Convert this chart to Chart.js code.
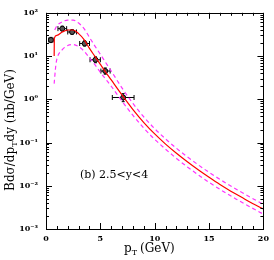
<!DOCTYPE html>
<html><head><meta charset="utf-8">
<script src="https://cdn.jsdelivr.net/npm/chart.js@4/dist/chart.umd.min.js"></script>
<style>html,body{margin:0;padding:0;background:#fff}</style>
</head><body>
<canvas id="c" width="274" height="260"></canvas>
<script>
// measured points (pT bin centre, yield) with bin edges
const ptX   = [0.45, 1.5, 2.4, 3.55, 4.55, 5.45, 7.1];
const ptY   = [23.5, 43, 36, 19.5, 8.2, 4.5, 1.1];
const ptXLo = [0.25, 1.1, 2.0, 3.1, 4.05, 5.05, 6.1];
const ptXHi = [0.65, 1.9, 2.8, 4.0, 5.0, 5.9, 8.1];
const ptYLo = [20.5, 38, 32, 17, 7.0, 3.8, 0.88];
const ptYHi = [27, 49, 40.5, 22.5, 9.6, 5.3, 1.35];

// central theory curve
const midX = [0.75, 0.77, 1.0, 1.5, 2.0, 2.5, 3.0, 3.5, 4.0, 4.5, 5.0, 5.5, 6.0, 7.0, 8.0, 9.0, 10, 11, 12, 13, 14, 15, 16, 17, 18, 19, 20];
const midY = [10, 26, 30, 36, 40, 40, 33, 24, 15, 9.8, 6.4, 4.2, 2.8, 1.25, 0.58, 0.29, 0.158, 0.092, 0.0565, 0.0359, 0.0234, 0.0157, 0.0107, 0.0075, 0.0054, 0.0039, 0.0029];
// upper / lower band
const upX = [0.8, 1.0, 1.5, 2.0, 2.5, 3.0, 3.5, 4.0, 4.5, 5.0, 5.5, 6.0, 7.0, 8.0, 9.0, 10, 11, 12, 13, 15, 17.5, 20];
const upY = [40, 50, 62, 68, 68, 58, 43, 27, 17, 11, 7, 4.5, 1.81, 0.80, 0.389, 0.209, 0.121, 0.0735, 0.0467, 0.0204, 0.0083, 0.0037];
const loX = [0.75, 0.9, 1.0, 1.5, 2.0, 2.5, 3.0, 3.5, 4.0, 4.5, 5.0, 5.5, 6.0, 7.0, 8.0, 9.0, 10, 11, 12, 13, 15, 17.5, 20];
const loY = [2.3, 6, 8.5, 14, 17.5, 18.5, 16.5, 13, 9, 6.3, 4.2, 2.9, 2.0, 0.9, 0.423, 0.215, 0.1185, 0.070, 0.0429, 0.0273, 0.012, 0.0049, 0.0022];

const xMajor = [0, 5, 10, 15, 20];
const yMajor = [1e-3, 1e-2, 1e-1, 1, 10, 100];
const yTickText = ['10\u207B\u00B3', '10\u207B\u00B2', '10\u207B\u00B9', '10\u2070', '10\u00B9', '10\u00B2'];

const SERIF = '"DejaVu Serif", "Liberation Serif", serif';

function pts(xs, ys){ return xs.map((x, i) => ({x, y: ys[i]})); }

const frame = {
  id: 'frame',
  beforeDatasetsDraw(chart){
    const {ctx, scales:{x, y}} = chart;
    ctx.save();
    ctx.strokeStyle = '#000';
    ctx.lineWidth = 1;
    ctx.beginPath();
    for(let i = 0; i < ptX.length; i++){
      const px = x.getPixelForValue(ptX[i]), py = y.getPixelForValue(ptY[i]);
      const x0 = x.getPixelForValue(ptXLo[i]), x1 = x.getPixelForValue(ptXHi[i]);
      const y0 = y.getPixelForValue(ptYLo[i]), y1 = y.getPixelForValue(ptYHi[i]);
      ctx.moveTo(x0, py); ctx.lineTo(x1, py);
      ctx.moveTo(x0, py - 2.5); ctx.lineTo(x0, py + 2.5);
      ctx.moveTo(x1, py - 2.5); ctx.lineTo(x1, py + 2.5);
      ctx.moveTo(px, y0); ctx.lineTo(px, y1);
      ctx.moveTo(px - 1.5, y0); ctx.lineTo(px + 1.5, y0);
      ctx.moveTo(px - 1.5, y1); ctx.lineTo(px + 1.5, y1);
    }
    ctx.stroke();
    ctx.restore();
  },
  afterDraw(chart){
    const {ctx, chartArea:a, scales:{x, y}} = chart;
    ctx.save();
    ctx.strokeStyle = '#000';
    ctx.lineWidth = 1;
    ctx.strokeRect(Math.round(a.left) + 0.5, Math.round(a.top) + 0.5, Math.round(a.right - a.left), Math.round(a.bottom - a.top));
    ctx.beginPath();
    for(let v = 0; v <= 20; v++){
      const px = Math.round(x.getPixelForValue(v)) + 0.5;
      const len = v % 5 === 0 ? 6 : 3;
      ctx.moveTo(px, a.bottom); ctx.lineTo(px, a.bottom - len);
      ctx.moveTo(px, a.top); ctx.lineTo(px, a.top + len);
    }
    for(let e = -3; e <= 2; e++){
      for(let m = 1; m <= 9; m++){
        const v = m * Math.pow(10, e);
        if(v > 100) break;
        const py = Math.round(y.getPixelForValue(v)) + 0.5;
        const len = m === 1 ? 6 : 3;
        ctx.moveTo(a.left, py); ctx.lineTo(a.left + len, py);
        ctx.moveTo(a.right, py); ctx.lineTo(a.right - len, py);
      }
    }
    ctx.stroke();

    ctx.fillStyle = '#000';
    // panel label
    ctx.font = '11px ' + SERIF;
    ctx.textAlign = 'left';
    ctx.textBaseline = 'middle';
    ctx.fillText('(b) 2.5<y<4', 80, 175);

    // x title: p_T (GeV)
    ctx.font = '12px ' + SERIF;
    ctx.textBaseline = 'alphabetic';
    let tx = 124, ty = 252;
    ctx.fillText('p', tx, ty);
    tx += ctx.measureText('p').width;
    ctx.font = '8px ' + SERIF;
    ctx.fillText('T', tx, ty + 3);
    tx += ctx.measureText('T').width + 3;
    ctx.font = '12px ' + SERIF;
    ctx.fillText('(GeV)', tx, ty);

    // y title: Bdσ/dp_Tdy (nb/GeV)
    ctx.translate(14, 130);
    ctx.rotate(-Math.PI / 2);
    const parts = [['Bd\u03C3/dp', 12, 0], ['T', 8, 3], ['dy (nb/GeV)', 12, 0]];
    let w = 0;
    parts.forEach(p => { ctx.font = p[1] + 'px ' + SERIF; w += ctx.measureText(p[0]).width; });
    let sx = -w / 2;
    parts.forEach(p => {
      ctx.font = p[1] + 'px ' + SERIF;
      ctx.fillText(p[0], sx, p[2]);
      sx += ctx.measureText(p[0]).width;
    });
    ctx.restore();
  }
};

new Chart(document.getElementById('c'), {
  type: 'scatter',
  data: {
    datasets: [
      { data: pts(upX, upY), showLine: true, borderColor: '#ff33ff', borderWidth: 1.2, borderDash: [4, 3], pointRadius: 0, cubicInterpolationMode: 'monotone' },
      { data: pts(loX, loY), showLine: true, borderColor: '#ff33ff', borderWidth: 1.2, borderDash: [4, 3], pointRadius: 0, cubicInterpolationMode: 'monotone' },
      { data: pts(midX, midY), showLine: true, borderColor: '#ff0000', borderWidth: 1.2, pointRadius: 0, cubicInterpolationMode: 'monotone' },
      { data: pts(ptX, ptY), pointStyle: 'circle', pointRadius: 2.5, backgroundColor: '#555', borderColor: '#000', borderWidth: 1 }
    ]
  },
  options: {
    responsive: false,
    animation: false,
    devicePixelRatio: 1,
    layout: { padding: { left: 0, right: 7, top: 8, bottom: 0 } },
    plugins: { legend: { display: false }, tooltip: { enabled: false } },
    scales: {
      x: {
        type: 'linear', min: 0, max: 20,
        grid: { display: false, drawTicks: false },
        border: { display: false },
        afterBuildTicks: s => { s.ticks = xMajor.map(v => ({value: v})); },
        afterFit: s => { s.height = 31; },
        ticks: { color: '#000', padding: 5, maxRotation: 0, font: { family: SERIF, size: 8, weight: 'bold' }, callback: v => String(v) }
      },
      y: {
        type: 'logarithmic', min: 1e-3, max: 100,
        grid: { display: false, drawTicks: false },
        border: { display: false },
        afterBuildTicks: s => { s.ticks = yMajor.map(v => ({value: v})); },
        afterFit: s => { s.width = 46; },
        ticks: { color: '#000', padding: 8, font: { family: SERIF, size: 8, weight: 'bold' },
          callback: v => { const i = yMajor.findIndex(m => Math.abs(Math.log10(m) - Math.log10(v)) < 1e-6); return i < 0 ? '' : yTickText[i]; } }
      }
    }
  },
  plugins: [frame]
});
</script>
</body></html>
